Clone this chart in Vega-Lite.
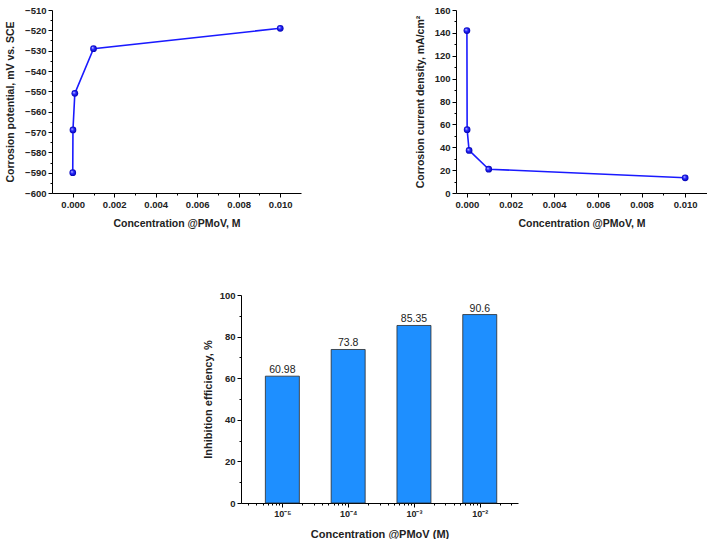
{
  "$schema": "https://vega.github.io/schema/vega-lite/v6.json",
  "padding": {"left": 5, "top": 5, "right": 0, "bottom": 0},
  "background": "white",
  "config": {
    "view": {"stroke": null},
    "font": "Liberation Sans",
    "axis": {
      "grid": false,
      "domainColor": "#000",
      "domainWidth": 1,
      "tickColor": "#000",
      "tickWidth": 1,
      "tickSize": 4,
      "labelFont": "Liberation Sans",
      "labelFontWeight": "bold",
      "labelFontSize": 9.5,
      "labelColor": "#222",
      "labelPadding": 2,
      "titleFont": "Liberation Sans",
      "titleFontWeight": "bold",
      "titleFontSize": 10.5,
      "titleColor": "#222"
    }
  },
  "datasets": {
    "ecorr": [
      {"c": 0, "E": -590},
      {"c": 0.00001, "E": -569},
      {"c": 0.0001, "E": -551},
      {"c": 0.001, "E": -529},
      {"c": 0.01, "E": -519}
    ],
    "icorr": [
      {"c": 0, "i": 142},
      {"c": 0.00001, "i": 55.4},
      {"c": 0.0001, "i": 37.2},
      {"c": 0.001, "i": 20.8},
      {"c": 0.01, "i": 13.3}
    ],
    "ie": [
      {"c": 0.00001, "IE": 60.98, "label": "60.98"},
      {"c": 0.0001, "IE": 73.8, "label": "73.8"},
      {"c": 0.001, "IE": 85.35, "label": "85.35"},
      {"c": 0.01, "IE": 90.6, "label": "90.6"}
    ]
  },
  "spacing": 61,
  "center": true,
  "vconcat": [
    {
      "spacing": 114,
      "hconcat": [
        {
          "width": 249,
          "height": 183,
          "data": {"name": "ecorr"},
          "resolve": {"axis": {"x": "independent", "y": "independent"}},
          "layer": [
            {
              "mark": {"type": "line", "color": "#1a1aff", "strokeWidth": 1.6},
              "encoding": {
                "x": {"field": "c", "type": "quantitative", "scale": {"domain": [-0.001, 0.011], "nice": false, "zero": false},
                  "axis": {"orient": "bottom", "values": [0, 0.002, 0.004, 0.006, 0.008, 0.01], "format": ".3f", "title": "Concentration @PMoV, M", "titlePadding": 10}},
                "y": {"field": "E", "type": "quantitative", "scale": {"domain": [-600, -510], "nice": false, "zero": false},
                  "axis": {"orient": "left", "values": [-600, -590, -580, -570, -560, -550, -540, -530, -520, -510], "title": "Corrosion potential, mV vs. SCE", "titlePadding": 9}}
              }
            },
            {
              "mark": {"type": "point", "filled": true, "size": 45, "opacity": 1,
                "fill": {"gradient": "radial", "x1": 0.35, "y1": 0.35, "r1": 0, "x2": 0.5, "y2": 0.5, "r2": 0.5,
                  "stops": [{"offset": 0, "color": "#d0d0ff"}, {"offset": 0.45, "color": "#2a2aff"}, {"offset": 1, "color": "#0000b0"}]}},
              "encoding": {
                "x": {"field": "c", "type": "quantitative", "scale": {"domain": [-0.001, 0.011], "nice": false, "zero": false},
                  "axis": {"orient": "bottom", "values": [0.001, 0.003, 0.005, 0.007, 0.009], "labels": false, "domain": false, "tickSize": 2, "title": null}},
                "y": {"field": "E", "type": "quantitative", "scale": {"domain": [-600, -510], "nice": false, "zero": false},
                  "axis": {"orient": "left", "values": [-595, -585, -575, -565, -555, -545, -535, -525, -515], "labels": false, "domain": false, "tickSize": 2, "title": null}}
              }
            }
          ]
        },
        {
          "width": 251,
          "height": 183,
          "data": {"name": "icorr"},
          "resolve": {"axis": {"x": "independent", "y": "independent"}},
          "layer": [
            {
              "mark": {"type": "line", "color": "#1a1aff", "strokeWidth": 1.6},
              "encoding": {
                "x": {"field": "c", "type": "quantitative", "scale": {"domain": [-0.0005, 0.011], "nice": false, "zero": false},
                  "axis": {"orient": "bottom", "values": [0, 0.002, 0.004, 0.006, 0.008, 0.01], "format": ".3f", "title": "Concentration @PMoV, M", "titlePadding": 10}},
                "y": {"field": "i", "type": "quantitative", "scale": {"domain": [0, 160], "nice": false},
                  "axis": {"orient": "left", "values": [0, 20, 40, 60, 80, 100, 120, 140, 160], "title": "Corrosion current density, mA/cm²", "titlePadding": 9}}
              }
            },
            {
              "mark": {"type": "point", "filled": true, "size": 45, "opacity": 1,
                "fill": {"gradient": "radial", "x1": 0.35, "y1": 0.35, "r1": 0, "x2": 0.5, "y2": 0.5, "r2": 0.5,
                  "stops": [{"offset": 0, "color": "#d0d0ff"}, {"offset": 0.45, "color": "#2a2aff"}, {"offset": 1, "color": "#0000b0"}]}},
              "encoding": {
                "x": {"field": "c", "type": "quantitative", "scale": {"domain": [-0.0005, 0.011], "nice": false, "zero": false},
                  "axis": {"orient": "bottom", "values": [0.001, 0.003, 0.005, 0.007, 0.009], "labels": false, "domain": false, "tickSize": 2, "title": null}},
                "y": {"field": "i", "type": "quantitative", "scale": {"domain": [0, 160], "nice": false},
                  "axis": {"orient": "left", "values": [10, 30, 50, 70, 90, 110, 130, 150], "labels": false, "domain": false, "tickSize": 2, "title": null}}
              }
            }
          ]
        }
      ]
    },
    {
      "width": 277,
      "height": 208,
      "data": {"name": "ie"},
      "resolve": {"axis": {"x": "independent", "y": "independent"}},
      "layer": [
        {
          "mark": {"type": "bar", "size": 34, "color": "#1e8fff", "stroke": "#2a2a2a", "strokeWidth": 0.8},
          "encoding": {
            "x": {"field": "c", "type": "quantitative", "scale": {"type": "log", "domain": [0.0000028, 0.032], "nice": false},
              "axis": {"orient": "bottom", "values": [0.00001, 0.0001, 0.001, 0.01], "labelFontSize": 9,
                "labelExpr": "'10' + ['⁻⁵','⁻⁴','⁻³','⁻²'][round(log(datum.value)/LN10)+5]",
                "title": "Concentration @PMoV (M)", "titleFontSize": 11, "titlePadding": 10}},
            "y": {"field": "IE", "type": "quantitative", "scale": {"domain": [0, 100], "nice": false},
              "axis": {"orient": "left", "values": [0, 20, 40, 60, 80, 100], "title": "Inhibition efficiency, %", "titleFontSize": 11, "titlePadding": 6}}
          }
        },
        {
          "mark": {"type": "text", "baseline": "bottom", "dy": -1, "font": "Liberation Sans", "fontSize": 10.5, "color": "#222"},
          "encoding": {
            "x": {"field": "c", "type": "quantitative", "scale": {"type": "log", "domain": [0.0000028, 0.032], "nice": false},
              "axis": {"orient": "bottom", "values": [0.000003, 0.000004, 0.000005, 0.000006, 0.000007, 0.000008, 0.000009, 0.00002, 0.00003, 0.00004, 0.00005, 0.00006, 0.00007, 0.00008, 0.00009, 0.0002, 0.0003, 0.0004, 0.0005, 0.0006, 0.0007, 0.0008, 0.0009, 0.002, 0.003, 0.004, 0.005, 0.006, 0.007, 0.008, 0.009, 0.02, 0.03], "labels": false, "domain": false, "tickSize": 2, "title": null}},
            "y": {"field": "IE", "type": "quantitative", "scale": {"domain": [0, 100], "nice": false},
              "axis": {"orient": "left", "values": [10, 30, 50, 70, 90], "labels": false, "domain": false, "tickSize": 2, "title": null}},
            "text": {"field": "label"}
          }
        }
      ]
    }
  ]
}
